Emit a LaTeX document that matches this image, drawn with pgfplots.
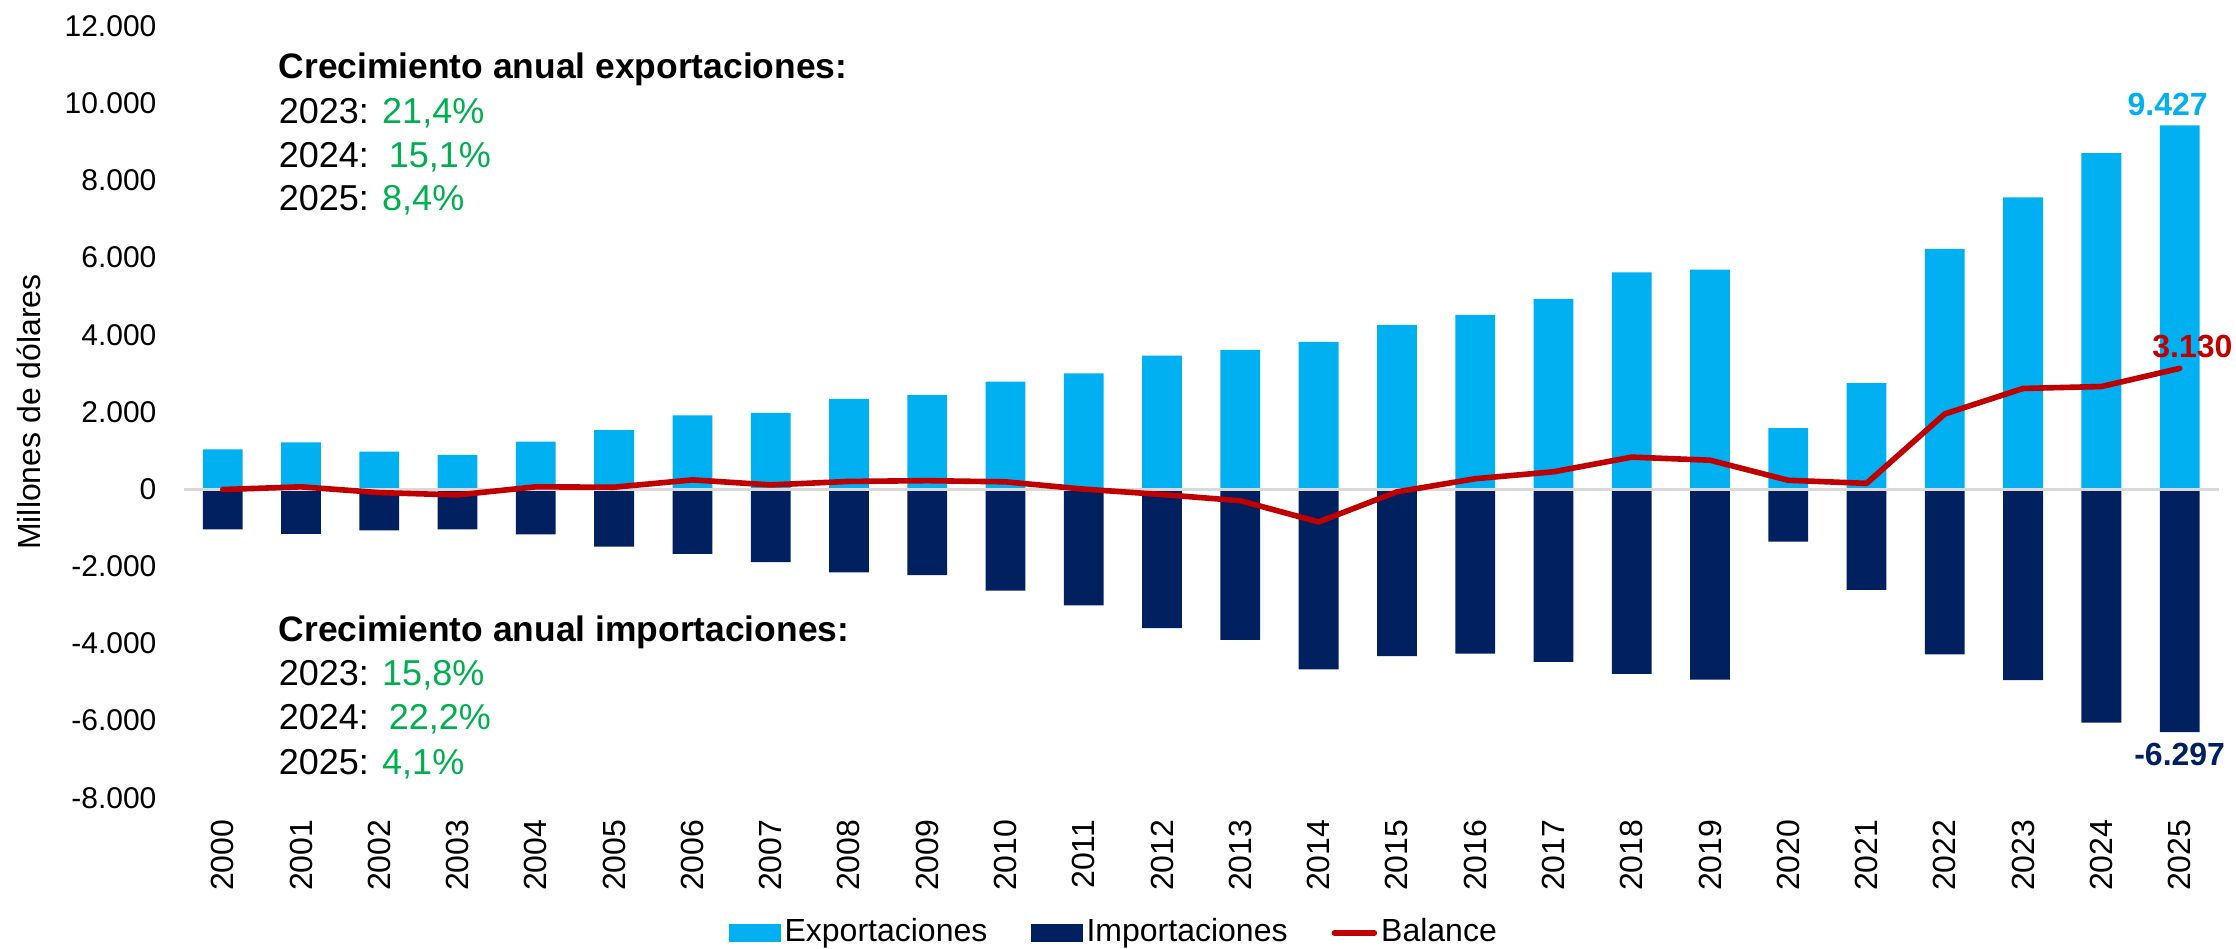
\documentclass[border=0pt]{standalone}
\usepackage{fontspec}
\setmainfont{Liberation Sans}
\usepackage{pgfplots}
\usepackage{pgfplotstable}
\pgfplotsset{compat=1.18}
\definecolor{expc}{HTML}{00B0F0}
\definecolor{impc}{HTML}{002060}
\definecolor{balc}{HTML}{C00000}
\definecolor{grn}{HTML}{00B050}
\definecolor{zl}{HTML}{D9D9D9}

\pgfplotstableread{
x year exp imp bal
0 2000 1030 -1040 -10
1 2001 1210 -1160 60
2 2002 970 -1070 -90
3 2003 890 -1040 -150
4 2004 1230 -1170 60
5 2005 1530 -1490 50
6 2006 1910 -1680 240
7 2007 1980 -1890 110
8 2008 2340 -2160 200
9 2009 2440 -2230 220
10 2010 2790 -2630 190
11 2011 3000 -3010 0
12 2012 3460 -3600 -140
13 2013 3610 -3910 -300
14 2014 3820 -4670 -850
15 2015 4260 -4330 -70
16 2016 4520 -4260 270
17 2017 4930 -4480 450
18 2018 5620 -4790 830
19 2019 5690 -4940 750
20 2020 1580 -1360 230
21 2021 2750 -2610 150
22 2022 6230 -4280 1950
23 2023 7560 -4950 2610
24 2024 8710 -6050 2660
25 2025 9427 -6297 3130
}\datatable

\begin{document}
\begin{tikzpicture}
\begin{axis}[
  scale only axis,
  width=508.8pt, height=192.9pt,
  xmin=-0.5, xmax=25.5,
  ymin=-8000, ymax=12000,
  ytick={-8000,-6000,...,12000},
  scaled y ticks=false,
  xtick={0,...,25},
  xticklabels={2000,2001,2002,2003,2004,2005,2006,2007,2008,2009,2010,2011,2012,2013,2014,2015,2016,2017,2018,2019,2020,2021,2022,2023,2024,2025},
  axis line style={draw=none},
  major tick length=0pt,
  tick style={draw=none},
  clip=false,
  /pgf/number format/.cd, fixed, 1000 sep={.}, assume math mode=true,
  /pgfplots/.cd,
  yticklabel style={font=\fontsize{7.5}{9}\selectfont, anchor=east, inner xsep=6.6pt, inner ysep=0pt},
  xticklabel style={font=\fontsize{8}{9}\selectfont, rotate=90, anchor=east, inner xsep=5.3pt, inner ysep=0pt},
  legend columns=3,
  legend style={at={(0.4577,0)}, anchor=center, yshift=-33.8pt, draw=none, fill=none,
    font=\fontsize{8}{9}\selectfont,
    /tikz/every even column/.append style={column sep=10pt},
    nodes={inner xsep=1pt, inner ysep=0pt}},
]
\addplot[ybar, bar width=9.95pt, bar shift=0pt, fill=expc, draw=none,
  legend image code/.code={\fill[expc] (0pt,-2.15pt) rectangle (12.8pt,2.15pt);}]
  table[x=x, y=exp] {\datatable};
\addlegendentry{Exportaciones}
\addplot[ybar, bar width=9.95pt, bar shift=0pt, fill=impc, draw=none,
  legend image code/.code={\fill[impc] (0pt,-2.15pt) rectangle (12.8pt,2.15pt);}]
  table[x=x, y=imp] {\datatable};
\addlegendentry{Importaciones}
\addplot[zl, line width=0.75pt, forget plot] coordinates {(-0.5,0) (25.5,0)};
\addplot[balc, line width=1.4pt, line join=round, line cap=round, mark=none,
  legend image code/.code={\draw[balc, line width=1.5pt, line cap=round] (0.5pt,0pt) -- (10.4pt,0pt);}]
  table[x=x, y=bal] {\datatable};
\addlegendentry{Balance}

\coordinate (SW) at (rel axis cs:0,0);
\node[xshift=-38.8pt, rotate=90, anchor=center, inner sep=0pt, font=\fontsize{8}{9}\selectfont] at (rel axis cs:0,0.5) {Millones de dólares};

\node[anchor=base west, inner sep=0pt, font=\fontsize{8.85}{11}\selectfont\bfseries] at (axis cs:0.706,10650) {Crecimiento anual exportaciones:};
\node[anchor=base west, inner sep=0pt, font=\fontsize{9}{11}\selectfont] at (axis cs:0.706,9490) {2023: \textcolor{grn}{21,4\%}};
\node[anchor=base west, inner sep=0pt, font=\fontsize{9}{11}\selectfont] at (axis cs:0.706,8350) {2024:\ \ \textcolor{grn}{15,1\%}};
\node[anchor=base west, inner sep=0pt, font=\fontsize{9}{11}\selectfont] at (axis cs:0.706,7210) {2025: \textcolor{grn}{8,4\%}};

\node[anchor=base west, inner sep=0pt, font=\fontsize{8.85}{11}\selectfont\bfseries] at (axis cs:0.706,-3940) {Crecimiento anual importaciones:};
\node[anchor=base west, inner sep=0pt, font=\fontsize{9}{11}\selectfont] at (axis cs:0.706,-5090) {2023: \textcolor{grn}{15,8\%}};
\node[anchor=base west, inner sep=0pt, font=\fontsize{9}{11}\selectfont] at (axis cs:0.706,-6240) {2024:\ \ \textcolor{grn}{22,2\%}};
\node[anchor=base west, inner sep=0pt, font=\fontsize{9}{11}\selectfont] at (axis cs:0.706,-7390) {2025: \textcolor{grn}{4,1\%}};

\node[anchor=base, inner sep=0pt, xshift=-3pt, yshift=2.6pt, text=expc, font=\fontsize{8}{9}\selectfont\bfseries] at (axis cs:25,9427) {9.427};
\node[anchor=base, inner sep=0pt, xshift=3.2pt, yshift=2.6pt, text=balc, font=\fontsize{8}{9}\selectfont\bfseries] at (axis cs:25,3130) {3.130};
\node[anchor=north, inner sep=0pt, yshift=-2.5pt, text=impc, font=\fontsize{8}{9}\selectfont\bfseries] at (axis cs:25,-6297) {-6.297};
\end{axis}
\pgfresetboundingbox
\path (SW) ++(-45.9pt,-37.8pt) rectangle ++(559pt,237.25pt);
\end{tikzpicture}
\end{document}
